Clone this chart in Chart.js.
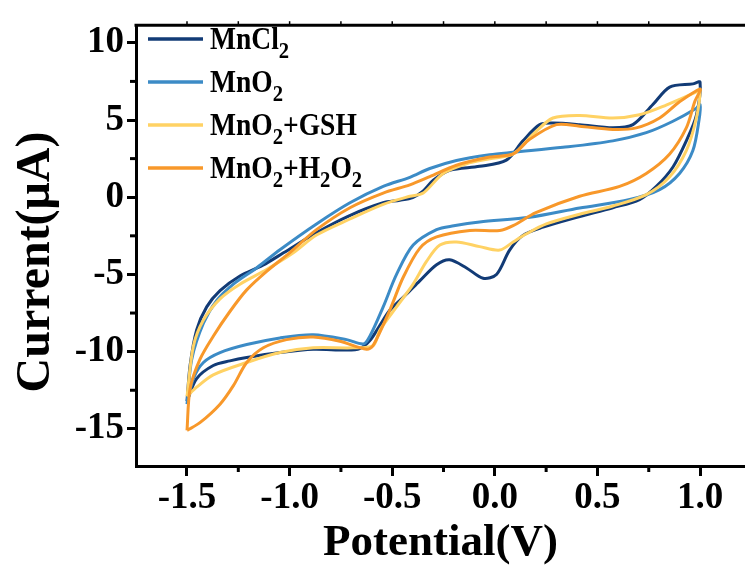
<html><head>
<style>body{margin:0;background:#fff;}</style>
</head>
<body>
<script src="https://cdn.jsdelivr.net/npm/chart.js@4.4.1/dist/chart.umd.min.js"></script>
<canvas id="cv" width="745" height="568"></canvas>
<script>
// series names (₂ is drawn as a subscript in the legend)
seriesNames = ['MnCl₂', 'MnO₂', 'MnO₂+GSH', 'MnO₂+H₂O₂'];
seriesColors = ['#123b76', '#3c8bc6', '#ffd264', '#f8982a'];

// [potential V, current uA], forward scan then reverse scan
mncl2 = [[-1.5,-13.2],[-1.485,-10.9],[-1.453,-8.6],[-1.404,-7.1],[-1.339,-6.05],[-1.242,-5.1],[-1.13,-4.4],
  [-1.03,-3.6],[-0.87,-2.3],[-0.71,-1.2],[-0.544,-0.36],[-0.463,-0.2],[-0.40,-0.02],[-0.35,0.4],[-0.30,1.1],
  [-0.22,1.75],[-0.074,2.0],[0.056,2.4],[0.137,3.65],[0.219,4.7],[0.283,4.8],[0.413,4.7],[0.575,4.5],
  [0.673,4.7],[0.77,6.0],[0.852,7.13],[0.965,7.34],[1.0,7.45],
  [0.982,5.3],[0.933,3.65],[0.868,1.96],[0.787,0.7],[0.705,-0.15],[0.575,-0.68],[0.40,-1.3],[0.235,-1.94],
  [0.137,-2.47],[0.072,-3.42],[0.008,-5.0],[-0.057,-5.25],[-0.138,-4.58],[-0.22,-4.05],[-0.284,-4.37],
  [-0.366,-5.42],[-0.43,-6.27],[-0.512,-7.32],[-0.56,-8.3],[-0.61,-9.3],[-0.658,-9.8],[-0.722,-9.9],
  [-0.885,-9.85],[-1.047,-10.06],[-1.209,-10.38],[-1.291,-10.6],[-1.372,-10.9],[-1.453,-11.75],[-1.5,-13.2]];

mno2 = [[-1.5,-13.4],[-1.477,-10.5],[-1.42,-8.16],[-1.355,-6.69],[-1.274,-5.63],[-1.161,-4.58],[-1.047,-3.4],
  [-0.869,-1.73],[-0.706,-0.36],[-0.544,0.7],[-0.414,1.29],[-0.317,1.86],[-0.187,2.38],[-0.025,2.75],
  [0.089,2.91],[0.332,3.23],[0.575,3.65],[0.738,4.18],[0.868,4.92],[0.982,5.76],[1.0,6.0],
  [0.995,5.0],[0.965,3.02],[0.9,1.54],[0.803,0.49],[0.657,-0.15],[0.413,-0.7],[0.17,-1.3],[-0.074,-1.6],
  [-0.2,-1.85],[-0.284,-2.1],[-0.398,-3.1],[-0.479,-5.0],[-0.544,-7.1],[-0.609,-9.0],[-0.64,-9.5],
  [-0.722,-9.22],[-0.885,-8.9],[-1.047,-9.11],[-1.209,-9.54],[-1.339,-10.06],[-1.42,-10.7],[-1.469,-11.75],[-1.5,-13.4]];

mno2Gsh = [[-1.5,-12.9],[-1.469,-9.64],[-1.42,-7.95],[-1.339,-6.58],[-1.242,-5.63],[-1.112,-4.68],[-0.982,-3.6],
  [-0.869,-2.45],[-0.706,-1.41],[-0.544,-0.46],[-0.414,0.06],[-0.349,0.27],[-0.252,1.54],[-0.138,2.17],
  [-0.025,2.49],[0.089,2.8],[0.186,4.07],[0.283,5.13],[0.413,5.3],[0.575,5.13],[0.705,5.34],[0.835,5.97],
  [0.982,6.82],[1.0,7.0],
  [0.982,5.13],[0.933,3.02],[0.852,1.33],[0.738,0.17],[0.575,-0.57],[0.413,-1.1],[0.251,-1.73],[0.15,-2.4],
  [0.089,-2.9],[0.024,-3.42],[-0.074,-3.2],[-0.187,-2.9],[-0.268,-3.1],[-0.333,-4.16],[-0.398,-5.63],
  [-0.479,-7.1],[-0.56,-8.6],[-0.593,-9.6],[-0.69,-9.75],[-0.885,-9.75],[-1.047,-10.06],[-1.209,-10.7],
  [-1.372,-11.5],[-1.453,-12.3],[-1.5,-12.9]];

mno2H2o2 = [[-1.5,-15.1],[-1.485,-12.4],[-1.437,-10.5],[-1.372,-9.0],[-1.291,-7.4],[-1.209,-6.0],[-1.112,-4.8],
  [-1.0,-3.6],[-0.869,-2.1],[-0.706,-0.68],[-0.544,0.27],[-0.414,0.8],[-0.317,1.33],[-0.187,2.07],
  [-0.025,2.6],[0.089,2.8],[0.17,3.75],[0.30,4.7],[0.413,4.6],[0.575,4.39],[0.689,4.49],[0.803,5.13],
  [0.90,6.18],[1.0,7.0],
  [0.974,6.18],[0.933,4.49],[0.852,2.8],[0.738,1.54],[0.608,0.7],[0.413,0.06],[0.2,-1.0],[0.089,-1.84],
  [0.024,-2.15],[-0.122,-2.15],[-0.284,-2.57],[-0.366,-3.31],[-0.447,-5.2],[-0.512,-7.32],[-0.593,-9.6],
  [-0.625,-9.85],[-0.755,-9.33],[-0.885,-9.05],[-1.015,-9.22],[-1.128,-9.75],[-1.209,-10.7],[-1.274,-12.2],
  [-1.339,-13.4],[-1.437,-14.6],[-1.5,-15.1]];

series = [mncl2, mno2, mno2Gsh, mno2H2o2];

xTicks = [-1.5,-1.25,-1.0,-0.75,-0.5,-0.25,0,0.25,0.5,0.75,1.0];
yTicks = [-15,-12.5,-10,-7.5,-5,-2.5,0,2.5,5,7.5,10];
xRange = [-1.7485, 1.219];
yRange = [-17.405, 11.14];
xTitle = 'Potential(V)';
yTitle = 'Current(μA)';

serif = '"Liberation Serif", "Times New Roman", serif';
isMajorX = v => Math.abs(v * 2 - Math.round(v * 2)) < 1e-6;
isMajorY = v => v % 5 === 0;

// top frame line, short minor ticks and the y title
framePlugin = {
  id: 'frame',
  afterDraw(chart) {
    const c = chart.ctx, a = chart.chartArea, xs = chart.scales.x, ys = chart.scales.y;
    c.save();
    c.strokeStyle = '#000';
    c.lineWidth = 3;
    c.beginPath(); c.moveTo(a.left - 1.5, a.top); c.lineTo(a.right, a.top); c.stroke();
    c.lineWidth = 1.5;
    xTicks.forEach(v => {
      const px = xs.getPixelForValue(v);
      c.beginPath(); c.moveTo(px, a.top); c.lineTo(px, a.top - 4); c.stroke();
    });
    c.lineWidth = 3;
    xTicks.filter(v => !isMajorX(v)).forEach(v => {
      const px = xs.getPixelForValue(v);
      c.beginPath(); c.moveTo(px, a.bottom); c.lineTo(px, a.bottom + 6); c.stroke();
    });
    yTicks.filter(v => !isMajorY(v)).forEach(v => {
      const py = ys.getPixelForValue(v);
      c.beginPath(); c.moveTo(a.left, py); c.lineTo(a.left - 6, py); c.stroke();
    });
    c.translate(37, 262);
    c.rotate(-Math.PI / 2);
    c.fillStyle = '#000';
    c.font = 'bold 48px ' + serif;
    c.textAlign = 'center';
    c.textBaseline = 'middle';
    c.fillText(yTitle, 0, 0);
    c.restore();
  }
};

// legend drawn by hand so the 2s can be subscripts
legendPlugin = {
  id: 'cvLegend',
  afterDraw(chart) {
    const c = chart.ctx;
    seriesNames.forEach((name, i) => {
      const y = 39 + i * 43;
      c.save();
      c.strokeStyle = seriesColors[i];
      c.lineWidth = 3.5;
      c.beginPath(); c.moveTo(148, y); c.lineTo(203, y); c.stroke();
      c.translate(210, y + 10);
      c.scale(0.86, 1);
      c.fillStyle = '#000';
      c.textBaseline = 'alphabetic';
      let x = 0;
      for (const ch of name) {
        const sub = ch === '₂';
        const t = sub ? '2' : ch;
        c.font = 'bold ' + (sub ? 24 : 32) + 'px ' + serif;
        c.fillText(t, x, sub ? 9 : 0);
        x += c.measureText(t).width;
      }
      c.restore();
    });
  }
};

ctx = document.getElementById('cv').getContext('2d');
myChart = new Chart(ctx, {
  type: 'scatter',
  data: {
    datasets: series.map((s, i) => ({
      label: seriesNames[i],
      data: s.map(p => ({x: p[0], y: p[1]})),
      showLine: true,
      borderColor: seriesColors[i],
      backgroundColor: seriesColors[i],
      borderWidth: 3,
      pointRadius: 0,
      tension: 0.3,
      fill: false,
      order: 4 - i
    }))
  },
  options: {
    responsive: false,
    animation: false,
    devicePixelRatio: 1,
    layout: { padding: { top: 15, right: 0, left: 0, bottom: 0 } },
    plugins: { legend: { display: false }, tooltip: { enabled: false } },
    scales: {
      x: {
        type: 'linear',
        min: xRange[0], max: xRange[1],
        afterBuildTicks: ax => { ax.ticks = xTicks.map(v => ({value: v})); },
        afterFit: ax => { ax.height = 102; },
        border: { color: '#000', width: 3 },
        grid: { drawOnChartArea: false, drawTicks: true, tickLength: 10, tickWidth: 3,
          tickColor: c => isMajorX(c.tick.value) ? '#000' : 'rgba(0,0,0,0)' },
        ticks: {
          color: '#000', padding: 0, maxRotation: 0, autoSkip: false,
          font: { family: serif, size: 37, weight: 'bold' },
          callback: v => isMajorX(v) ? v.toFixed(1) : ''
        },
        title: { display: true, text: xTitle, color: '#000',
          font: { family: serif, size: 45, weight: 'bold', lineHeight: 1.1 }, padding: { top: 0, bottom: 0 } }
      },
      y: {
        type: 'linear',
        min: yRange[0], max: yRange[1],
        afterBuildTicks: ax => { ax.ticks = yTicks.map(v => ({value: v})); },
        afterFit: ax => { ax.width = 136; },
        border: { color: '#000', width: 3 },
        grid: { drawOnChartArea: false, drawTicks: true, tickLength: 9, tickWidth: 3,
          tickColor: c => isMajorY(c.tick.value) ? '#000' : 'rgba(0,0,0,0)' },
        ticks: {
          color: '#000', padding: 3, autoSkip: false,
          font: { family: serif, size: 37, weight: 'bold' },
          callback: v => isMajorY(v) ? String(v) : ''
        },
        title: { display: false }
      }
    }
  },
  plugins: [framePlugin, legendPlugin]
});
</script>
</body>
</html>
